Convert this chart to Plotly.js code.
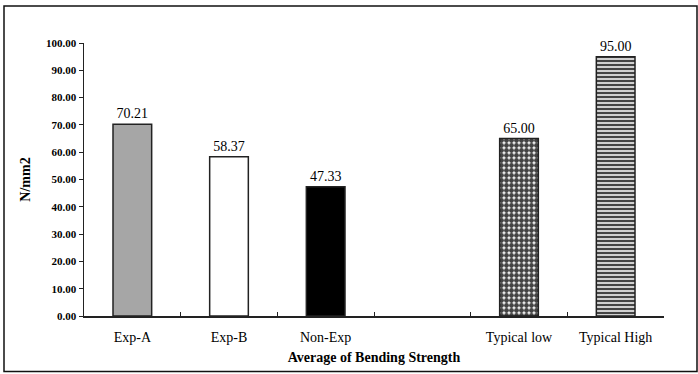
<!DOCTYPE html>
<html>
<head>
<meta charset="utf-8">
<script src="https://cdn.plot.ly/plotly-3.0.1.min.js"></script>
<style>html,body{margin:0;padding:0;background:#fff;}#chart{width:698px;height:374px;}</style>
</head>
<body>
<div id="chart"></div>
<script>
const categories = ['Exp-A', 'Exp-B', 'Non-Exp', ' ', 'Typical low', 'Typical High'];
const values = [70.21, 58.37, 47.33, null, 65.00, 95.00];
const labels = ['70.21', '58.37', '47.33', '', '65.00', '95.00'];
const fillColors = ['#a6a6a6', '#ffffff', '#000000', '#ffffff', '#ffffff', '#d0d0d0'];
const patternShapes = ['', '', '', '', '.', '-'];
const yTickVals = [0, 10, 20, 30, 40, 50, 60, 70, 80, 90, 100];
const yTickText = yTickVals.map(v => v.toFixed(2));

const L = 84, R = 664, T = 43, B = 316, W = 698, H = 374;
const pw = R - L, ph = B - T;
const px = x => (x - L) / pw;
const py = y => (B - y) / ph;

const trace = {
  type: 'bar',
  x: categories,
  y: values,
  text: labels,
  textposition: 'outside',
  cliponaxis: false,
  textfont: {family: 'Liberation Serif', size: 14, color: '#000'},
  width: 0.4,
  marker: {
    color: fillColors,
    line: {color: '#222', width: 1.5},
    pattern: {
      shape: patternShapes,
      fgcolor: ['#000', '#000', '#000', '#000', '#000', '#000'],
      fgopacity: 1,
      size: [5, 5, 5, 5, 5, 4],
      solidity: [0.5, 0.5, 0.5, 0.5, 0.75, 0.5],
      fillmode: 'overlay'
    }
  },
  hoverinfo: 'none'
};

const layout = {
  width: W, height: H,
  margin: {l: L, r: W - R, t: T, b: H - B},
  paper_bgcolor: '#fff', plot_bgcolor: '#fff',
  showlegend: false,
  font: {family: 'Liberation Serif', color: '#000'},
  xaxis: {
    type: 'category',
    categoryorder: 'array',
    categoryarray: categories,
    range: [-0.5, 5.5],
    showline: true, linecolor: '#222', linewidth: 1.5,
    ticks: 'inside', tickson: 'boundaries', ticklen: 4, tickcolor: '#222', tickwidth: 1,
    ticklabelstandoff: 8,
    showgrid: false, zeroline: false,
    tickfont: {family: 'Liberation Serif', size: 14, color: '#000'},
    title: {text: '<b>Average of Bending Strength</b>', font: {family: 'Liberation Serif', size: 14, color: '#000'}, standoff: 8}
  },
  yaxis: {
    range: [0, 100],
    tickvals: yTickVals, ticktext: yTickText,
    showline: true, linecolor: '#222', linewidth: 1.5,
    ticks: 'outside', ticklen: 4, tickcolor: '#222', tickwidth: 1,
    showgrid: false, zeroline: false,
    tickfont: {family: 'Liberation Serif', size: 11, color: '#000', weight: 'bold'},
    title: {text: '<b>N/mm2</b>', font: {family: 'Liberation Serif', size: 14, color: '#000'}, standoff: 12}
  },
  shapes: [
    {type: 'rect', xref: 'paper', yref: 'paper', x0: px(4), x1: px(697), y0: py(371.5), y1: py(6),
     line: {color: '#111', width: 1.5}, fillcolor: 'rgba(0,0,0,0)', layer: 'below'}
  ]
};

Plotly.newPlot('chart', [trace], layout, {displayModeBar: false, staticPlot: true});
</script>
</body>
</html>
